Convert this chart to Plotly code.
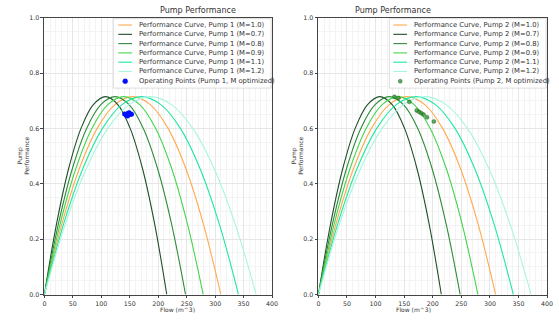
import plotly.graph_objects as go

# Pump performance curves for different speed multipliers M
M_LABELS = ["1.0", "0.7", "0.8", "0.9", "1.1", "1.2"]
CURVE_COLORS = ["#ffa94d", "#1f4f2a", "#2e8b3a", "#44d44c", "#1ee8a0", "#a8f5e2"]

FLOW_M10 = [0, 31, 62, 93, 124, 155, 186, 217, 248, 279, 310]
FLOW_M07 = [0, 21.5, 43, 64.5, 86, 107.5, 129, 150.5, 172, 193.5, 215]
FLOW_M08 = [0, 24.8, 49.6, 74.4, 99.2, 124, 148.8, 173.6, 198.4, 223.2, 248]
FLOW_M09 = [0, 27.9, 55.8, 83.7, 111.6, 139.5, 167.4, 195.3, 223.2, 251.1, 279]
FLOW_M11 = [0, 34.1, 68.2, 102.3, 136.4, 170.5, 204.6, 238.7, 272.8, 306.9, 341]
FLOW_M12 = [0, 37.2, 74.4, 111.6, 148.8, 186, 223.2, 260.4, 297.6, 334.8, 372]
CURVE_FLOWS = [FLOW_M10, FLOW_M07, FLOW_M08, FLOW_M09, FLOW_M11, FLOW_M12]

# performance along each curve (same shape for every M)
CURVE_PERF = [0, 0.257, 0.458, 0.601, 0.686, 0.715, 0.686, 0.601, 0.458, 0.257, 0]

# operating points with optimized M
OP1_FLOW = [141, 144, 147, 150, 153, 146, 149]
OP1_PERF = [0.652, 0.648, 0.655, 0.650, 0.651, 0.645, 0.657]
OP2_FLOW = [133, 140, 159, 172, 176, 180, 184, 190, 202]
OP2_PERF = [0.714, 0.710, 0.696, 0.665, 0.660, 0.655, 0.650, 0.640, 0.625]

X_TICKS = [0, 50, 100, 150, 200, 250, 300, 350, 400]
Y_TICKS = [0.0, 0.2, 0.4, 0.6, 0.8, 1.0]

W, H = 559, 321
TXT = "#333333"
FONT = "DejaVu Sans"
fig = go.Figure()

OP1_COLOR, OP1_LINE = "#0010ff", "#0010ff"
OP2_COLOR, OP2_LINE = "rgba(40,140,40,0.75)", "rgba(20,90,20,0.8)"
OP1_MARKER = dict(color=OP1_COLOR, size=5, symbol="circle")
OP2_MARKER = dict(color=OP2_COLOR, size=4, symbol="circle",
                  line=dict(color=OP2_LINE, width=0.5))

panels = [
    ("x", "y", "1", OP1_FLOW, OP1_PERF, OP1_MARKER),
    ("x2", "y2", "2", OP2_FLOW, OP2_PERF, OP2_MARKER),
]

for xa, ya, pump, ofl, ope, mk in panels:
    for lab, col, fl in zip(M_LABELS, CURVE_COLORS, CURVE_FLOWS):
        fig.add_trace(go.Scatter(
            x=fl, y=CURVE_PERF, mode="lines", line=dict(color=col, width=1.1, shape="spline"),
            name=f"Performance Curve, Pump {pump} (M={lab})", xaxis=xa, yaxis=ya,
            showlegend=False))
    fig.add_trace(go.Scatter(
        x=ofl, y=ope, mode="markers", marker=mk,
        name=f"Operating Points (Pump {pump}, M optimized)", xaxis=xa, yaxis=ya,
        showlegend=False))

dom_y = [24 / H, 307 / H]
dom_x1 = [43 / W, 274 / W]
dom_x2 = [321 / W, 553 / W]

axis_common = dict(showline=True, mirror=True, linecolor="#444", linewidth=0.8,
                   ticks="outside", ticklen=3, tickcolor="#444",
                   tickfont=dict(size=6.3, color=TXT, family=FONT),
                   showgrid=True, gridcolor="#e6e6e6", gridwidth=0.6, zeroline=False)
xax = dict(axis_common, range=[0, 400], tickvals=X_TICKS,
           minor=dict(dtick=10, showgrid=True, gridcolor="#f3f3f3", gridwidth=0.5))
yax = dict(axis_common, range=[0, 1.0], tickvals=Y_TICKS, tickformat=".1f",
           minor=dict(dtick=0.05, showgrid=True, gridcolor="#f3f3f3", gridwidth=0.5))

fig.update_layout(
    width=W, height=H, margin=dict(l=0, r=0, t=0, b=0),
    paper_bgcolor="white", plot_bgcolor="white", showlegend=False,
    xaxis=dict(xax, domain=dom_x1, anchor="y"),
    yaxis=dict(yax, domain=dom_y, anchor="x"),
    xaxis2=dict(xax, domain=dom_x2, anchor="y2"),
    yaxis2=dict(yax, domain=dom_y, anchor="x2"),
)


def px(x):
    return x / W


def py(y):
    return 1 - y / H


# titles and axis labels
for dx in (dom_x1, dom_x2):
    cx = (dx[0] + dx[1]) / 2
    fig.add_annotation(text="Pump Performance", x=cx, y=py(7), xref="paper", yref="paper",
                       yanchor="middle", showarrow=False,
                       font=dict(size=8, color=TXT, family=FONT))
    fig.add_annotation(text="Flow (m^3)", x=cx, y=py(312), xref="paper", yref="paper",
                       yanchor="middle", showarrow=False,
                       font=dict(size=6, color=TXT, family=FONT))
    fig.add_annotation(text="Pump<br>Performance", x=dx[0] - 22 / W, y=(dom_y[0] + dom_y[1]) / 2,
                       xref="paper", yref="paper", textangle=-90, showarrow=False,
                       xanchor="center", yanchor="middle",
                       font=dict(size=6, color=TXT, family=FONT))

# legend boxes drawn in pixel positions inside each panel
ROW_Y = [21.5, 31, 40.5, 50, 59.5, 69, 79]
for box_left, box_right, line_x0, pump, mcol, mline, mr in [
    (113, 273, 118, 1, OP1_COLOR, OP1_LINE, 2.5),
    (393, 552, 397, 2, OP2_COLOR, OP2_LINE, 2.0),
]:
    fig.add_shape(type="rect", xref="paper", yref="paper",
                  x0=px(box_left), x1=px(box_right), y0=py(86), y1=py(15),
                  line=dict(color="#d0d0d0", width=0.7), fillcolor="rgba(255,255,255,0.85)",
                  layer="above")
    labels = [f"Performance Curve, Pump {pump} (M={m})" for m in M_LABELS]
    labels.append(f"Operating Points (Pump {pump}, M optimized)")
    for i, (lab, yy) in enumerate(zip(labels, ROW_Y)):
        if i < len(CURVE_COLORS):
            fig.add_shape(type="line", xref="paper", yref="paper",
                          x0=px(line_x0), x1=px(line_x0 + 14), y0=py(yy), y1=py(yy),
                          line=dict(color=CURVE_COLORS[i], width=1.1), layer="above")
        else:
            cxp = line_x0 + 7
            fig.add_shape(type="circle", xref="paper", yref="paper",
                          x0=px(cxp - mr), x1=px(cxp + mr), y0=py(yy + mr), y1=py(yy - mr),
                          line=dict(color=mline, width=0.5), fillcolor=mcol, layer="above")
        fig.add_annotation(text=lab, x=px(line_x0 + 19), y=py(yy), xref="paper", yref="paper",
                           xanchor="left", yanchor="middle", showarrow=False,
                           font=dict(size=6.8, color=TXT, family=FONT))

fig.write_html("out.html")
